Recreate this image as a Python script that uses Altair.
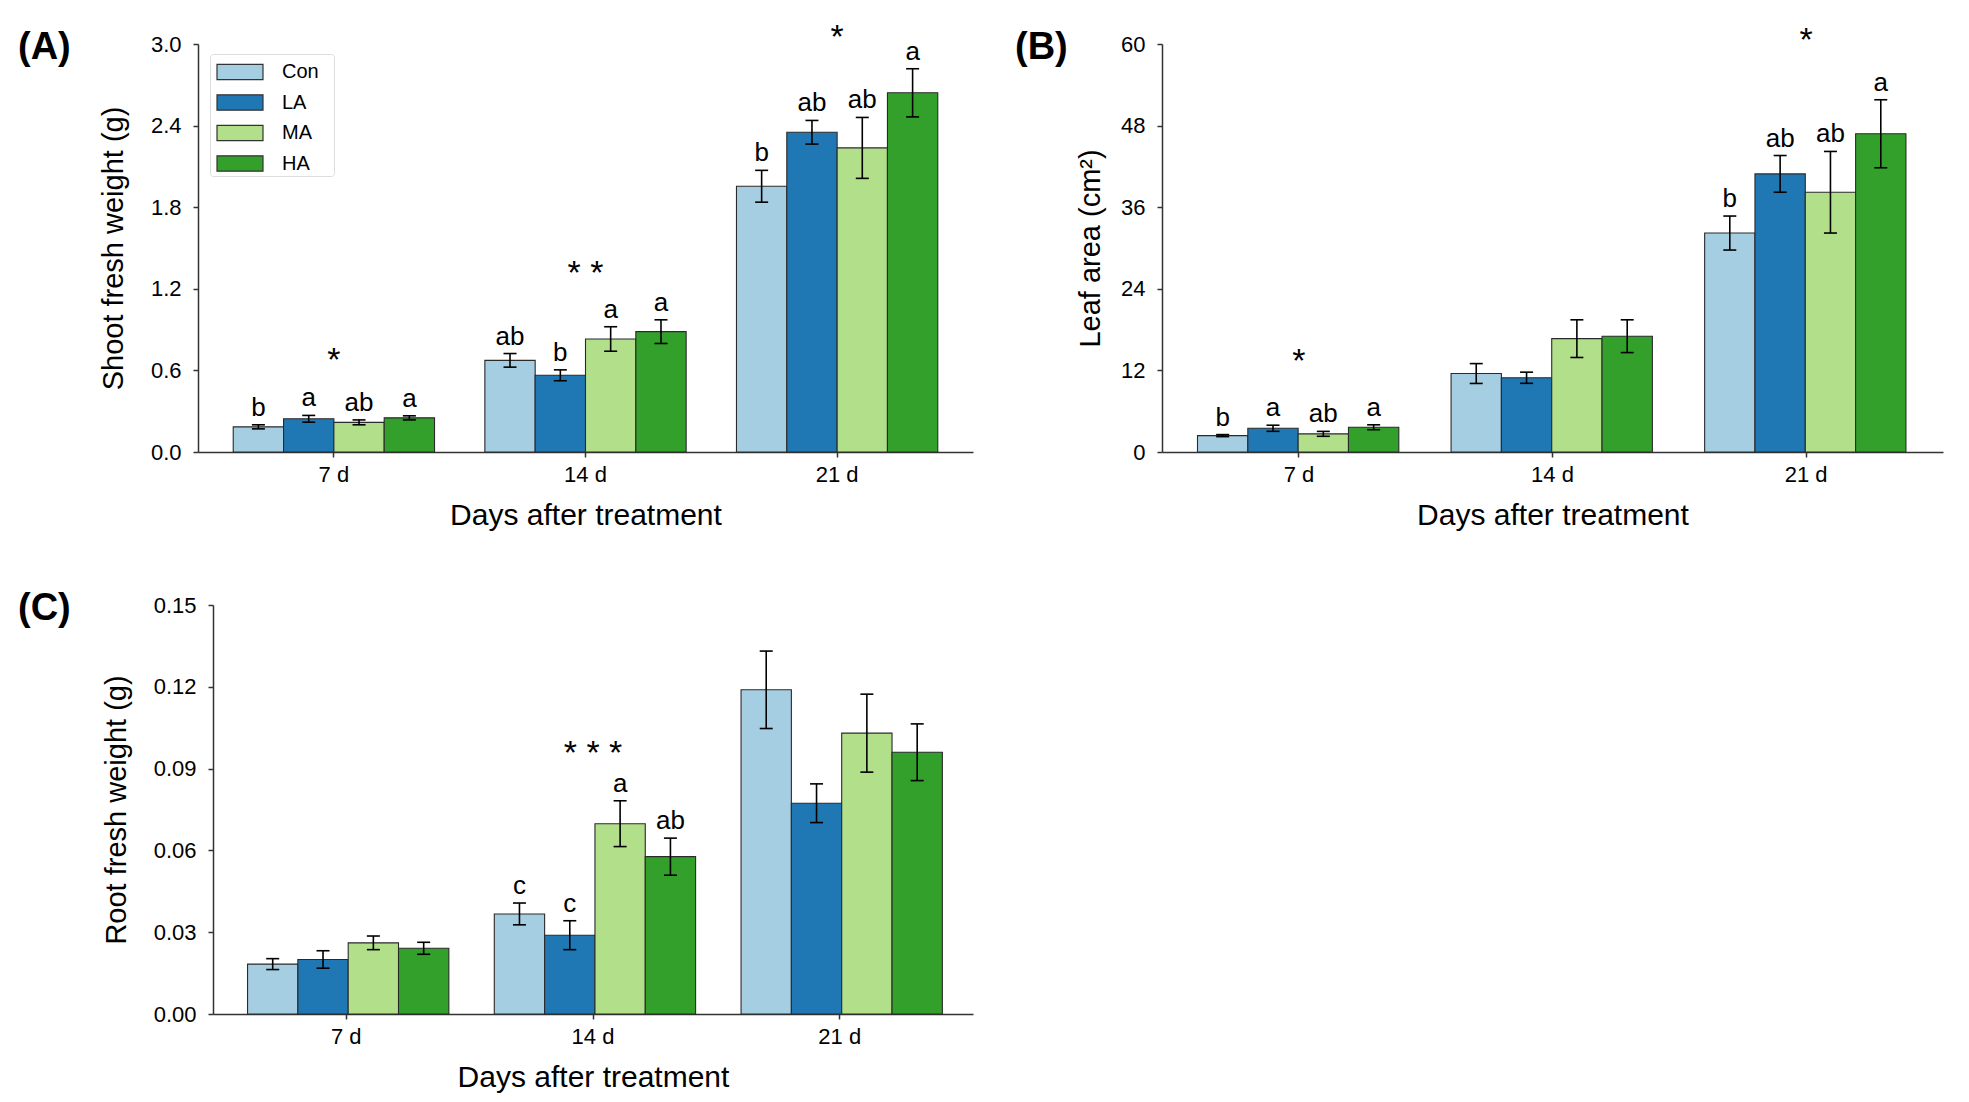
import altair as alt
import pandas as pd

days = ["7 d", "14 d", "21 d"]
treatments = ["Con", "LA", "MA", "HA"]
colors = ["#a6cee3", "#1f78b4", "#b2df8a", "#33a02c"]

# (A) Shoot fresh weight (g): rows = days, columns = treatments
shoot_mean = [[0.185, 0.244, 0.218, 0.251],
              [0.674, 0.564, 0.831, 0.885],
              [1.954, 2.351, 2.236, 2.641]]
shoot_err = [[0.015, 0.025, 0.018, 0.015],
             [0.050, 0.040, 0.090, 0.087],
             [0.117, 0.087, 0.224, 0.177]]
shoot_letters = [["b", "a", "ab", "a"],
                 ["ab", "b", "a", "a"],
                 ["b", "ab", "ab", "a"]]
shoot_stars = ["*", "* *", "*"]
shoot_star_y = [0.60, 1.24, 2.98]

# (B) Leaf area (cm2)
leaf_mean = [[2.41, 3.49, 2.67, 3.64],
             [11.54, 10.92, 16.67, 17.03],
             [32.2, 40.9, 38.2, 46.8]]
leaf_err = [[0.15, 0.45, 0.36, 0.36],
            [1.46, 0.82, 2.77, 2.41],
            [2.5, 2.7, 6.0, 5.0]]
leaf_letters = [["b", "a", "ab", "a"],
                ["", "", "", ""],
                ["b", "ab", "ab", "a"]]
leaf_stars = ["*", "", "*"]
leaf_star_y = [11.9, 0, 59.1]

# (C) Root fresh weight (g)
root_mean = [[0.0183, 0.0200, 0.0261, 0.0241],
             [0.0367, 0.0289, 0.0698, 0.0577],
             [0.1189, 0.0773, 0.1030, 0.0960]]
root_err = [[0.0020, 0.0032, 0.0025, 0.0022],
            [0.0040, 0.0053, 0.0084, 0.0068],
            [0.0142, 0.0071, 0.0143, 0.0104]]
root_letters = [["", "", "", ""],
                ["c", "c", "a", "ab"],
                ["", "", "", ""]]
root_stars = ["", "* * *", ""]
root_star_y = [0, 0.092, 0]

shoot_ticks = [0.0, 0.6, 1.2, 1.8, 2.4, 3.0]
leaf_ticks = [0, 12, 24, 36, 48, 60]
root_ticks = [0.00, 0.03, 0.06, 0.09, 0.12, 0.15]

FONT = "Liberation Sans"


def panel(mean, err, letters, stars, star_y, ytitle, yticks, yfmt, label,
          label_dx, width, height, show_legend, inset=0, ytitle_pad=22):
    rows = []
    for i, d in enumerate(days):
        for j, t in enumerate(treatments):
            m, e = mean[i][j], err[i][j]
            rows.append({"day": d, "treatment": t, "mean": m,
                         "lo": m - e, "hi": m + e, "letter": letters[i][j]})
    df = pd.DataFrame(rows)
    sdf = pd.DataFrame({"day": days, "star": stars, "sy": star_y})
    sdf = sdf[sdf["star"] != ""]
    ldf = pd.DataFrame({"lab": [label]})

    xscale = alt.Scale(paddingInner=0.2, paddingOuter=0.14)
    if inset:
        xscale = alt.Scale(paddingInner=0.2, paddingOuter=0.14,
                           range=[inset, width])
    xs = alt.X("day:N", sort=days, scale=xscale,
               axis=alt.Axis(title="Days after treatment", labelAngle=0,
                             labelPadding=7, titlePadding=15, titleFontSize=30))
    xo = alt.XOffset("treatment:N", sort=treatments,
                     scale=alt.Scale(paddingInner=0, paddingOuter=0))
    yaxis = dict(title=ytitle, values=yticks, format=yfmt,
                 labelPadding=12, titlePadding=ytitle_pad, titleFontSize=29)
    if inset:
        yaxis["offset"] = -inset
    ys = alt.Y("mean:Q",
               scale=alt.Scale(domain=[yticks[0], yticks[-1]], nice=False),
               axis=alt.Axis(**yaxis))
    if show_legend:
        leg = alt.Legend(title=".", titleOrient="right", titleColor="white",
                         titleFontSize=8, titlePadding=10,
                         orient="none", legendX=12, legendY=10,
                         symbolType="M-1.5,-0.5H1.5V0.5H-1.5Z", symbolSize=940,
                         symbolOffset=12,
                         symbolStrokeColor="#333", symbolStrokeWidth=1.2,
                         symbolOpacity=1,
                         labelFont=FONT, labelFontSize=20, labelOffset=26,
                         rowPadding=3.5, padding=2,
                         strokeColor="#dddddd", fillColor="white",
                         cornerRadius=3)
    else:
        leg = None
    bars = alt.Chart(df).mark_bar(stroke="#2a2a2a", strokeWidth=1.1).encode(
        x=xs, xOffset=xo, y=ys,
        color=alt.Color("treatment:N", sort=treatments,
                        scale=alt.Scale(domain=treatments, range=colors),
                        legend=leg))
    xb = alt.X("day:N", sort=days)
    rules = alt.Chart(df).mark_rule(color="black", strokeWidth=1.6).encode(
        x=xb, xOffset=xo, y="lo:Q", y2="hi:Q")
    cap_hi = alt.Chart(df).mark_tick(color="black", thickness=1.6, size=13,
                                     opacity=1).encode(
        x=xb, xOffset=xo, y="hi:Q")
    cap_lo = alt.Chart(df).mark_tick(color="black", thickness=1.6, size=13,
                                     opacity=1).encode(
        x=xb, xOffset=xo, y="lo:Q")
    lets = alt.Chart(df).mark_text(font=FONT, fontSize=26, baseline="alphabetic",
                                   dy=-9, color="black").encode(
        x=xb, xOffset=xo, y="hi:Q", text="letter:N")
    star = alt.Chart(sdf).mark_text(font=FONT, fontSize=34, baseline="alphabetic",
                                    dy=1, color="black").encode(
        x=xb, y="sy:Q", text="star:N")
    lab = alt.Chart(ldf).mark_text(font=FONT, fontSize=38, fontWeight="bold",
                                   align="left", baseline="middle",
                                   color="black").encode(
        x=alt.value(label_dx), y=alt.value(4), text="lab:N")
    ch = alt.layer(bars, rules, cap_hi, cap_lo, lets, star, lab).properties(
        width=width, height=height)
    return ch


A = panel(shoot_mean, shoot_err, shoot_letters, shoot_stars, shoot_star_y,
          "Shoot fresh weight (g)", shoot_ticks, ".1f", "(A)", -180, 775, 408, True)
B = panel(leaf_mean, leaf_err, leaf_letters, leaf_stars, leaf_star_y,
          "Leaf area (cm²)", leaf_ticks, "d", "(B)", -147, 781, 408, False,
          ytitle_pad=15)
C = panel(root_mean, root_err, root_letters, root_stars, root_star_y,
          "Root fresh weight (g)", root_ticks, ".2f", "(C)", -180, 775, 409, False,
          inset=15)

chart = alt.concat(A, B, C, columns=2, spacing={"row": 60, "column": 42}).resolve_scale(
    color="independent"
).properties(
    padding={"left": 18, "top": 20, "right": 10, "bottom": 10},
    background="white"
).configure_axis(
    labelFont=FONT, labelFontSize=22, labelColor="black",
    titleFont=FONT, titleFontWeight="normal", titleColor="black",
    grid=False, domainColor="#333", domainWidth=1.5, tickColor="#333",
    tickSize=5, tickWidth=1.5
).configure_view(stroke=None)

chart.save("out.html", embed_options={"renderer": "svg", "actions": False})
